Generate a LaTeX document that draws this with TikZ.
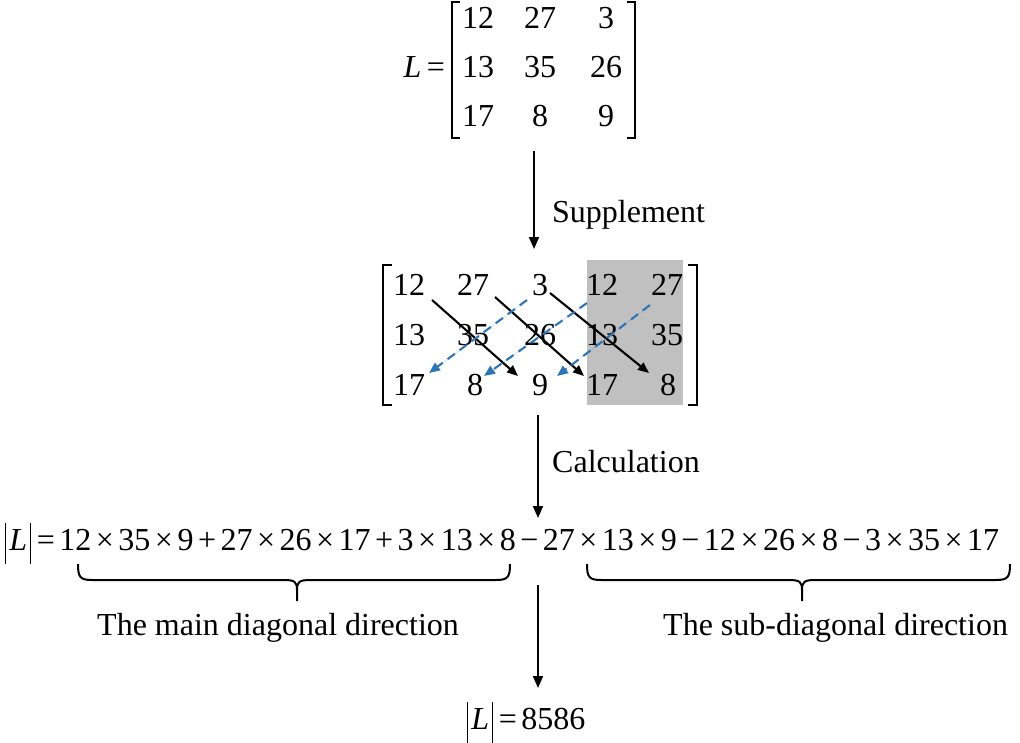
\documentclass[tikz,border=0pt]{standalone}
\usepackage{fontspec}
\setmainfont{Liberation Serif}
\usetikzlibrary{arrows.meta}
\definecolor{boxgray}{RGB}{192,192,192}
\definecolor{arrowblue}{RGB}{46,117,182}
\newlength\opgap
\setlength\opgap{4.5pt}
\newcommand\myop[1]{\hspace{\opgap}#1\hspace{\opgap}}
\newcommand\absbar{\hspace{1pt}\rule[-14pt]{1.2pt}{41pt}\hspace{1pt}}
\newcommand\absL{\absbar\hspace{2pt}\textit{L}\hspace{2pt}\absbar}
\begin{document}
\begin{tikzpicture}[x=1pt,y=-1pt,
  txt/.style={inner sep=0pt, anchor=base, font=\fontsize{32}{38}\selectfont},
  lbl/.style={txt, anchor=base west},
  flow/.style={-{Triangle[length=12pt,width=10pt]}, line width=2pt},
  diagarr/.style={-{Triangle[length=11pt,width=9pt]}, line width=2.1pt},
  bluearr/.style={diagarr, draw=arrowblue, fill=arrowblue, dash pattern=on 9pt off 6pt},
  brk/.style={line width=2pt}]
\useasboundingbox (0,0) rectangle (1020,742);

% ---------- top matrix ----------
\node[txt, anchor=base east] (Leq) at (445,77) {\textit{L}\,=};
\node[txt] (t11) at (478,28) {12};
\node[txt] (t12) at (540,28) {27};
\node[txt] (t13) at (606,28) {3};
\node[txt] (t21) at (478,77) {13};
\node[txt] (t22) at (540,77) {35};
\node[txt] (t23) at (606,77) {26};
\node[txt] (t31) at (478,126) {17};
\node[txt] (t32) at (540,126) {8};
\node[txt] (t33) at (606,126) {9};
\draw[brk] (460,2) -- (452,2) -- (452,138) -- (460,138);
\draw[brk] (627,2) -- (635,2) -- (635,138) -- (627,138);

% arrow 1
\coordinate (a1s) at (534,151);
\coordinate (a1e) at (534,249);
\draw[flow] (a1s) -- (a1e);
\node[lbl] (sup) at (552,222) {Supplement};

% ---------- middle matrix ----------
\fill[boxgray] (587,260) rectangle (683,405);
\node[txt] (m11) at (409,295) {12};
\node[txt] (m12) at (473,295) {27};
\node[txt] (m13) at (540,295) {3};
\node[txt] (m14) at (602,295) {12};
\node[txt] (m15) at (667,295) {27};
\node[txt] (m21) at (409,345) {13};
\node[txt] (m22) at (473,345) {35};
\node[txt] (m23) at (540,345) {26};
\node[txt] (m24) at (602,345) {13};
\node[txt] (m25) at (667,345) {35};
\node[txt] (m31) at (409,395) {17};
\node[txt] (m32) at (475,395) {8};
\node[txt] (m33) at (540,395) {9};
\node[txt] (m34) at (602,395) {17};
\node[txt] (m35) at (668,395) {8};
\draw[brk] (392,265) -- (383,265) -- (383,405) -- (392,405);
\draw[brk] (688,265) -- (697,265) -- (697,405) -- (688,405);

% diagonal arrows
\coordinate (b1s) at (432,300); \coordinate (b1e) at (518,376);
\coordinate (b2s) at (495,297); \coordinate (b2e) at (584,376);
\coordinate (b3s) at (550,293); \coordinate (b3e) at (649,373);
\draw[diagarr] (b1s) -- (b1e);
\draw[diagarr] (b2s) -- (b2e);
\draw[diagarr] (b3s) -- (b3e);
\coordinate (c1s) at (527,300); \coordinate (c1e) at (429,373);
\coordinate (c2s) at (587,303); \coordinate (c2e) at (484,376);
\coordinate (c3s) at (650,305); \coordinate (c3e) at (557,376);
\draw[bluearr] (c1s) -- (c1e);
\draw[bluearr] (c2s) -- (c2e);
\draw[bluearr] (c3s) -- (c3e);

% arrow 2
\coordinate (a2s) at (538,415);
\coordinate (a2e) at (538,518);
\draw[flow] (a2s) -- (a2e);
\node[lbl] (calc) at (552,472) {Calculation};

% ---------- formula ----------
\node[lbl] (formula) at (4,550) {\absL\myop{=}12\myop{×}35\myop{×}9\myop{+}27\myop{×}26\myop{×}17\myop{+}3\myop{×}13\myop{×}8\myop{−}27\myop{×}13\myop{×}9\myop{−}12\myop{×}26\myop{×}8\myop{−}3\myop{×}35\myop{×}17};

% braces
\draw[brk] (78,564) .. controls (78,577) and (80,580) .. (92,580) -- (284,580)
  .. controls (295,580) and (297,582) .. (297,590) -- (297,601);
\draw[brk] (297,590) .. controls (297,582) and (299,580) .. (310,580) -- (496,580)
  .. controls (508,580) and (510,577) .. (510,564);
\draw[brk] (587,564) .. controls (587,577) and (589,580) .. (601,580) -- (789,580)
  .. controls (800,580) and (802,582) .. (802,590) -- (802,601);
\draw[brk] (802,590) .. controls (802,582) and (804,580) .. (815,580) -- (996,580)
  .. controls (1008,580) and (1010,577) .. (1010,564);

\node[lbl] (mainlbl) at (97,635) {The main diagonal direction};
\node[lbl] (sublbl) at (663,635) {The sub-diagonal direction};

% arrow 3
\coordinate (a3s) at (538,585);
\coordinate (a3e) at (538,688);
\draw[flow] (a3s) -- (a3e);
\node[lbl] (result) at (466,729) {\absL\myop{=}8586};
\end{tikzpicture}
\end{document}
